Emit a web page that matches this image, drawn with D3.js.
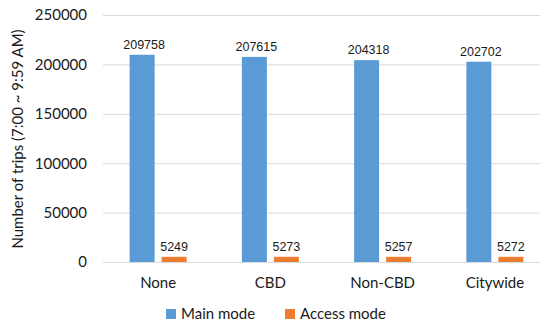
<!DOCTYPE html>
<html>
<head>
<meta charset="utf-8">
<script src="https://cdn.jsdelivr.net/npm/d3@7"></script>
<style>
  body { margin: 0; background: #fff; }
  .tick text { font-family: Lato, sans-serif; }
</style>
</head>
<body>
<script>
// scenario categories and the two series
var categories = ["None", "CBD", "Non-CBD", "Citywide"];
var series = ["Main mode", "Access mode"];
var mainMode = [209758, 207615, 204318, 202702];
var accessMode = [5249, 5273, 5257, 5272];
var yTicks = [0, 50000, 100000, 150000, 200000, 250000];
var colors = ["#5b9bd5", "#ed7d31"];

var width = 548, height = 324;
var margin = {top: 15, right: 8, bottom: 62, left: 102};

var svg = d3.select("body").append("svg")
    .attr("width", width)
    .attr("height", height);

var x_scale = d3.scaleBand()
    .domain(categories)
    .range([margin.left, 551]);

var inner = d3.scaleBand()
    .domain(series)
    .range([-28.5, 28.5])
    .paddingInner(0.22);

var y_scale = d3.scaleLinear()
    .domain([0, 250000])
    .range([262, margin.top]);

// gridlines
svg.append("g")
    .selectAll("line")
    .data(yTicks)
  .enter().append("line")
    .attr("x1", 103)
    .attr("x2", 540)
    .attr("y1", function(d) { return y_scale(d) + 0.5; })
    .attr("y2", function(d) { return y_scale(d) + 0.5; })
    .style("stroke", "#d9d9d9")
    .style("stroke-width", 1);

// y axis labels
var y_axis = d3.axisLeft(y_scale).tickValues(yTicks).tickFormat(d3.format("d")).tickSize(0).tickPadding(0);
svg.append("g")
    .attr("transform", "translate(87,0)")
    .call(y_axis)
    .call(function(g) { g.select(".domain").remove(); })
    .selectAll("text")
    .style("font-size", "15px")
    .style("fill", "#1a1a1a");

svg.append("text")
    .attr("transform", "rotate(-90)")
    .attr("x", -139)
    .attr("y", 23)
    .attr("text-anchor", "middle")
    .style("font-family", "Lato, sans-serif")
    .style("font-size", "15px")
    .style("fill", "#1a1a1a")
    .text("Number of trips (7:00 ~ 9:59 AM)");

// x axis labels
var x_axis = d3.axisBottom(x_scale).tickSize(0).tickPadding(0);
svg.append("g")
    .attr("transform", "translate(0,277)")
    .call(x_axis)
    .call(function(g) { g.select(".domain").remove(); })
    .selectAll("text")
    .style("font-size", "15px")
    .style("fill", "#1a1a1a");

var groups = svg.selectAll(".grp")
    .data(categories)
  .enter().append("g")
    .attr("class", "grp")
    .attr("transform", function(d) { return "translate(" + (x_scale(d) + x_scale.bandwidth() / 2) + ",0)"; });

var allSeries = [mainMode, accessMode];

groups.each(function(c, i) {
  var g = d3.select(this);
  series.forEach(function(s, j) {
    var v = allSeries[j][i];
    g.append("rect")
        .attr("x", inner(s))
        .attr("width", inner.bandwidth())
        .attr("y", y_scale(v))
        .attr("height", y_scale(0) - y_scale(v))
        .style("fill", colors[j]);
    g.append("text")
        .attr("x", inner(s) + inner.bandwidth() / 2 + (j === 0 ? 2 : 0))
        .attr("y", y_scale(v) - 6)
        .attr("text-anchor", "middle")
        .style("font-family", "'Liberation Sans', Arial, sans-serif")
        .style("font-size", "12.5px")
        .style("fill", "#1a1a1a")
        .text(v);
  });
});

// legend
var legendX = [166, 285];
var legend = svg.selectAll(".legend")
    .data(series)
  .enter().append("g")
    .attr("class", "legend")
    .attr("transform", function(d, i) { return "translate(" + legendX[i] + ",309)"; });

legend.append("rect")
    .attr("width", 10)
    .attr("height", 10)
    .style("fill", function(d, i) { return colors[i]; });

legend.append("text")
    .attr("x", 15)
    .attr("y", 10)
    .style("font-family", "Lato, sans-serif")
    .style("font-size", "15px")
    .style("fill", "#1a1a1a")
    .text(function(d) { return d; });
</script>
</body>
</html>
